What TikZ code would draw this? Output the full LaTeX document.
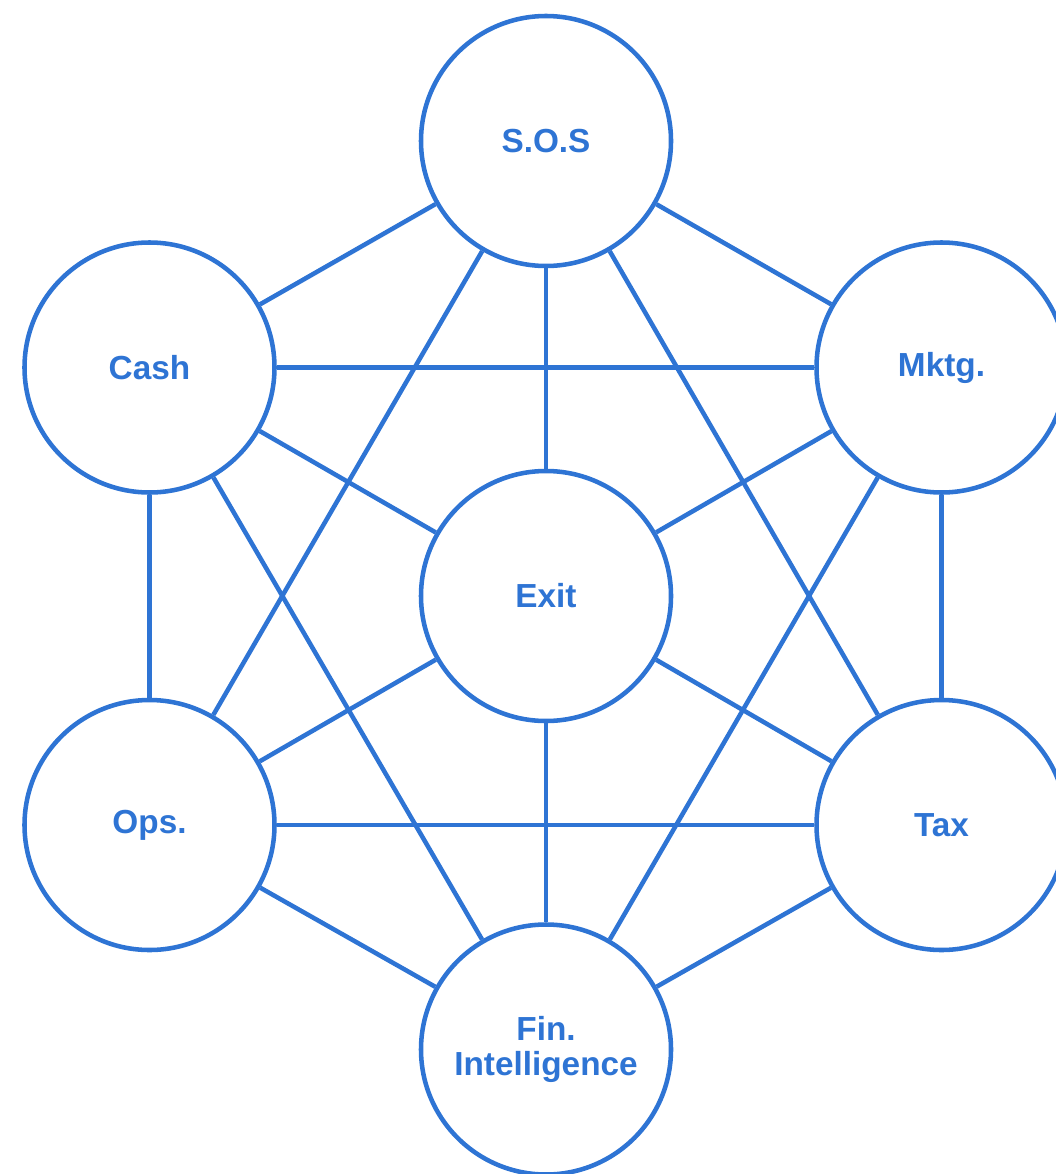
\documentclass[tikz,border=0pt]{standalone}
\usepackage{fontspec}
\setmainfont{Liberation Sans}
\usepackage{xcolor}
\definecolor{hubblue}{RGB}{46,116,212}

\begin{document}
\begin{tikzpicture}[x=0.75pt, y=-0.75pt,
  area/.style={circle, draw=hubblue, line width=3.4pt, fill=white,
    minimum size=187.5pt, inner sep=0pt, text=hubblue,
    font=\fontsize{25}{26}\selectfont\bfseries, align=center},
  link/.style={draw=hubblue, line width=3.4pt}]
 \useasboundingbox (0,0) rectangle (1056,1174);

 %nodes:
 \node[area] (sos)  at (546,141)    {S.O.S};
 \node[area] (cash) at (149.5,367.5) {Cash};
 \node[area] (mktg) at (941.5,367.5) {Mktg.};
 \node[area] (exit) at (546,596)    {Exit};
 \node[area] (ops)  at (149.5,825)  {Ops.};
 \node[area] (tax)  at (941.5,825)  {Tax};
 \node[area] (fin)  at (546,1049.5) {Fin.\\Intelligence};

 %connections
 \foreach \a/\b in {sos/cash, sos/mktg, sos/exit, sos/ops, sos/tax,
   cash/mktg, cash/exit, cash/ops, cash/fin,
   mktg/exit, mktg/tax, mktg/fin,
   exit/ops, exit/tax, exit/fin,
   ops/tax, ops/fin, tax/fin}
   \draw[link] (\a) -- (\b);
\end{tikzpicture}
\end{document}
